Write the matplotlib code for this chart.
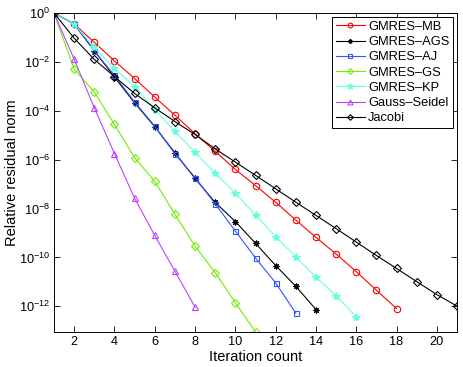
import matplotlib
matplotlib.use("Agg")
import matplotlib.pyplot as plt
import numpy as np

plt.rcParams['font.family'] = ['Liberation Sans', 'DejaVu Sans']
plt.rcParams['mathtext.fontset'] = 'custom'
plt.rcParams['mathtext.rm'] = 'Liberation Sans'
plt.rcParams['mathtext.it'] = 'Liberation Sans:italic'

# log10 of relative residual norm, iteration starting at 1
mb_log = [0, -0.45, -1.2, -1.96, -2.68, -3.44, -4.18, -4.94, -5.66, -6.40, -7.06, -7.74,
          -8.47, -9.18, -9.86, -10.58, -11.34, -12.09]
ags_log = [0, -0.45, -1.55, -2.62, -3.68, -4.65, -5.72, -6.77, -7.75, -8.53, -9.42,
           -10.33, -11.18, -12.13]
aj_log = [0, -0.45, -1.55, -2.55, -3.64, -4.63, -5.76, -6.73, -7.81, -8.92, -10.02,
          -11.04, -12.28]
gs_log = [0, -2.30, -3.23, -4.56, -5.92, -6.89, -8.23, -9.54, -10.62, -11.85, -13.05]
kp_log = [0, -0.45, -1.41, -2.27, -3.01, -3.95, -4.84, -5.70, -6.55, -7.37, -8.26,
          -9.15, -9.97, -10.80, -11.56, -12.44]
gsd_log = [0, -1.89, -3.88, -5.75, -7.58, -9.10, -10.56, -12.03]
jac_log = [0, -1.03, -1.90, -2.60, -3.29, -3.88, -4.44, -4.97, -5.56, -6.10, -6.64,
           -7.19, -7.74, -8.28, -8.82, -9.37, -9.92, -10.45, -10.99, -11.52, -11.99]

labels = ['GMRES\u2013MB', 'GMRES\u2013AGS', 'GMRES\u2013AJ', 'GMRES\u2013GS',
          'GMRES\u2013KP', 'Gauss\u2013Seidel', 'Jacobi']
series = [mb_log, ags_log, aj_log, gs_log, kp_log, gsd_log, jac_log]
colors = ['#ff0000', '#000000', '#3355ff', '#70ee00', '#66ffdd', '#bb44ff', '#000000']
markers = ['o', (8, 2, 0), 's', 'D', '*', '^', 'D']
msizes = [4.6, 4.2, 3.6, 3.8, 6.0, 4.8, 3.8]
filled = [False, True, False, False, True, False, False]

fig = plt.figure(figsize=(4.63, 3.67), dpi=100)
ax = fig.add_axes([54/463, 1-332/367, (457-54)/463, (332-13)/367])

for s, lab, c, m, ms, f in zip(series, labels, colors, markers, msizes, filled):
    x = np.arange(1, len(s) + 1)
    y = 10.0 ** np.array(s)
    ax.semilogy(x, y, color=c, marker=m, markersize=ms, linewidth=0.8,
                markerfacecolor=(c if f else 'none'), markeredgecolor=c,
                markeredgewidth=0.8, label=lab)

ax.set_xlim(1, 21)
ax.set_ylim(10**-13.05, 1)
ax.set_xticks(np.arange(2, 21, 2))
ax.set_yticks([10.0**k for k in range(0, -13, -2)])
ax.yaxis.set_minor_locator(matplotlib.ticker.NullLocator())
ax.tick_params(direction='in', which='both', top=True, right=True, labelsize=9.2,
               length=4, width=0.6, pad=3)
for sp in ax.spines.values():
    sp.set_linewidth(0.7)

ax.set_xlabel('Iteration count', fontsize=10.5, labelpad=1)
ax.set_ylabel('Relative residual norm', fontsize=10.5)
ax.yaxis.set_label_coords(-0.088, 0.5)

leg = ax.legend(loc='upper right', fontsize=9.3, fancybox=False, framealpha=1,
                edgecolor='black', handlelength=2.3, labelspacing=0.25,
                borderaxespad=0.3, handletextpad=0.2, borderpad=0.3,
                markerscale=0.75)
leg.get_frame().set_linewidth(0.7)

fig.savefig('out.png', dpi=100)
